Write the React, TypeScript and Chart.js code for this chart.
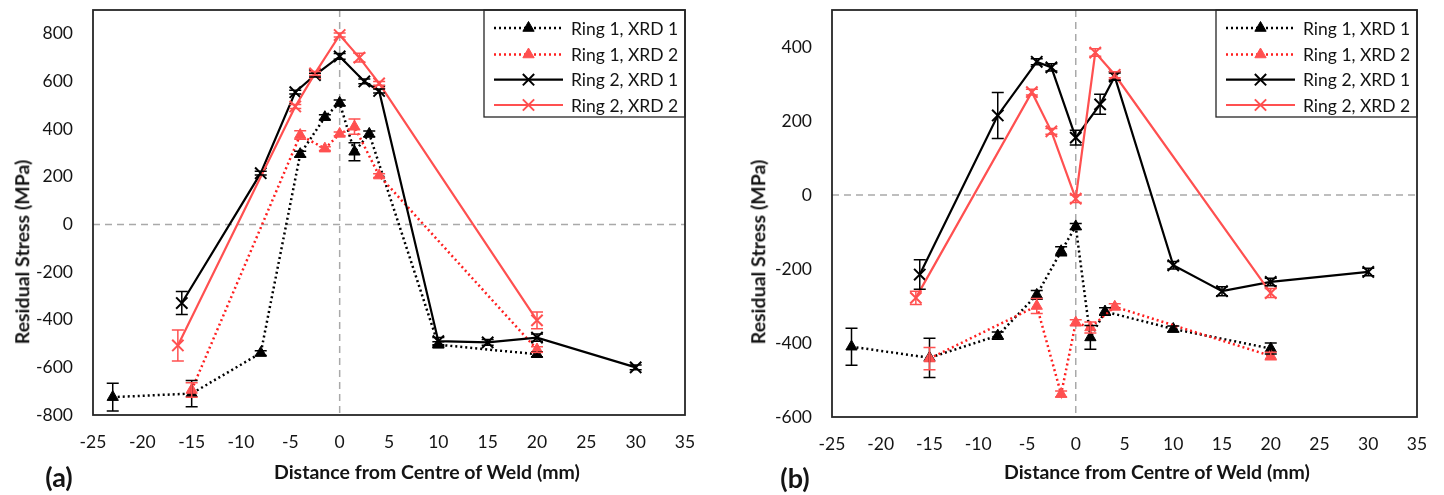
import React, { useEffect, useRef } from 'react';
import { Chart, registerables } from 'chart.js';

Chart.register(...registerables);

// ---------------- shared axis / legend text ----------------
const seriesLabels = ['Ring 1, XRD 1', 'Ring 1, XRD 2', 'Ring 2, XRD 1', 'Ring 2, XRD 2'];
const xTickValues = [-25, -20, -15, -10, -5, 0, 5, 10, 15, 20, 25, 30, 35];
const xTitle = 'Distance from Centre of Weld (mm)';
const yTitle = 'Residual Stress (MPa)';

// ---------------- panel (a) ----------------
const aYTickValues = [-800, -600, -400, -200, 0, 200, 400, 600, 800];

const aR1X1X = [-23, -15, -8, -4, -1.5, 0, 1.5, 3, 10, 20];
const aR1X1Y = [-725, -710, -540, 295, 450, 510, 305, 380, -505, -545];
const aR1X1E = [58, 55, 10, 12, 10, 12, 38, 12, 12, 10];

const aR1X2X = [-15, -4, -1.5, 0, 1.5, 4, 20];
const aR1X2Y = [-695, 375, 318, 380, 410, 205, -525];
const aR1X2E = [30, 18, 8, 8, 32, 8, 12];

const aR2X1X = [-16, -8, -4.5, -2.5, 0, 2.5, 4, 10, 15, 20, 30];
const aR2X1Y = [-330, 215, 555, 627, 705, 600, 560, -490, -495, -475, -600];
const aR2X1E = [48, 8, 8, 8, 12, 10, 8, 15, 12, 15, 10];

const aR2X2X = [-16.4, -4.5, -2.5, 0, 2, 4, 20];
const aR2X2Y = [-508, 495, 634, 795, 700, 592, -403];
const aR2X2E = [65, 8, 8, 8, 18, 8, 35];

// ---------------- panel (b) ----------------
const bYTickValues = [-600, -400, -200, 0, 200, 400];

const bR1X1X = [-23, -15, -8, -4, -1.5, 0, 1.5, 3, 10, 20];
const bR1X1Y = [-410, -440, -380, -270, -152, -85, -385, -315, -362, -415];
const bR1X1E = [50, 53, 10, 12, 12, 8, 32, 10, 8, 15];

const bR1X2X = [-15, -4, -1.5, 0, 1.5, 4, 20];
const bR1X2Y = [-442, -300, -538, -345, -358, -302, -435];
const bR1X2E = [30, 20, 8, 8, 15, 8, 10];

const bR2X1X = [-16, -8, -4, -2.5, 0, 2.5, 4, 10, 15, 20, 30];
const bR2X1Y = [-215, 215, 360, 345, 155, 245, 320, -190, -260, -235, -208];
const bR2X1E = [40, 62, 8, 10, 20, 27, 10, 10, 12, 10, 10];

const bR2X2X = [-16.4, -4.5, -2.5, 0, 2, 4, 20];
const bR2X2Y = [-278, 278, 172, -10, 385, 325, -265];
const bR2X2E = [18, 8, 8, 10, 10, 8, 12];

// ---------------- styling ----------------
const FONT = 'Lato, "Noto Sans", "DejaVu Sans", sans-serif';
const TEXT = '#141414';

type Kind = 'triangle' | 'crossRot';
interface Style { line: string; marker: string; dash: number[]; width: number; point: Kind; radius: number; pbw: number; }
const STYLES: Style[] = [
  { line: '#000000', marker: '#000000', dash: [2, 3], width: 2.5, point: 'triangle', radius: 6.5, pbw: 1 },
  { line: '#ff1f1f', marker: '#ff5050', dash: [2, 3], width: 2.5, point: 'triangle', radius: 6.5, pbw: 1 },
  { line: '#000000', marker: '#000000', dash: [], width: 2.2, point: 'crossRot', radius: 8, pbw: 2 },
  { line: '#ff5050', marker: '#ff5050', dash: [], width: 2.2, point: 'crossRot', radius: 8, pbw: 2 },
];

interface PanelDef {
  left: number; width: number; padRight: number; padTop: number; yAxisW: number; xAxisH: number;
  yMin: number; yMax: number; yTicks: number[];
  xs: number[][]; ys: number[][]; es: number[][];
}

const panelA: PanelDef = {
  left: 0, width: 720, padRight: 35, padTop: 7, yAxisW: 93, xAxisH: 80,
  yMin: -800, yMax: 900, yTicks: aYTickValues,
  xs: [aR1X1X, aR1X2X, aR2X1X, aR2X2X],
  ys: [aR1X1Y, aR1X2Y, aR2X1Y, aR2X2Y],
  es: [aR1X1E, aR1X2E, aR2X1E, aR2X2E],
};
const panelB: PanelDef = {
  left: 722, width: 722, padRight: 27, padTop: 8, yAxisW: 110, xAxisH: 78,
  yMin: -600, yMax: 500, yTicks: bYTickValues,
  xs: [bR1X1X, bR1X2X, bR2X1X, bR2X2X],
  ys: [bR1X1Y, bR1X2Y, bR2X1Y, bR2X2Y],
  es: [bR1X1E, bR1X2E, bR2X1E, bR2X2E],
};

function drawMarker(ctx: CanvasRenderingContext2D, st: Style, x: number, y: number) {
  ctx.save();
  ctx.setLineDash([]);
  const r = st.radius;
  if (st.point === 'triangle') {
    ctx.fillStyle = st.marker;
    ctx.strokeStyle = st.marker;
    ctx.lineWidth = st.pbw;
    ctx.beginPath();
    ctx.moveTo(x, y - r);
    ctx.lineTo(x + r * 0.866, y + r * 0.5);
    ctx.lineTo(x - r * 0.866, y + r * 0.5);
    ctx.closePath();
    ctx.fill();
    ctx.stroke();
  } else {
    const d = r * 0.7071;
    ctx.strokeStyle = st.marker;
    ctx.lineWidth = st.pbw;
    ctx.beginPath();
    ctx.moveTo(x - d, y - d); ctx.lineTo(x + d, y + d);
    ctx.moveTo(x + d, y - d); ctx.lineTo(x - d, y + d);
    ctx.stroke();
  }
  ctx.restore();
}

const decorPlugin = {
  id: 'decor',
  beforeDatasetsDraw(chart: any) {
    const { ctx, chartArea: a, scales } = chart;
    const x0 = scales.x.getPixelForValue(0);
    const y0 = scales.y.getPixelForValue(0);
    ctx.save();
    ctx.strokeStyle = '#a9a9a9';
    ctx.lineWidth = 1.5;
    ctx.setLineDash([7, 5]);
    ctx.beginPath();
    ctx.moveTo(a.left, y0); ctx.lineTo(a.right, y0);
    ctx.moveTo(x0, a.top); ctx.lineTo(x0, a.bottom);
    ctx.stroke();
    ctx.restore();
  },
  afterDatasetsDraw(chart: any) {
    const { ctx, scales } = chart;
    chart.data.datasets.forEach((ds: any, i: number) => {
      const meta = chart.getDatasetMeta(i);
      const st = STYLES[i];
      ctx.save();
      ctx.setLineDash([]);
      ctx.strokeStyle = st.marker;
      ctx.lineWidth = 1.5;
      ds.data.forEach((p: any, j: number) => {
        const e = ds.errors[j];
        if (!e) return;
        const px = meta.data[j].x;
        const yt = scales.y.getPixelForValue(p.y + e);
        const yb = scales.y.getPixelForValue(p.y - e);
        ctx.beginPath();
        ctx.moveTo(px, yt); ctx.lineTo(px, yb);
        ctx.moveTo(px - 6, yt); ctx.lineTo(px + 6, yt);
        ctx.moveTo(px - 6, yb); ctx.lineTo(px + 6, yb);
        ctx.stroke();
      });
      ctx.restore();
    });
  },
  afterDraw(chart: any) {
    const { ctx, chartArea: a } = chart;
    // legend box, top-right inside the plot
    const bw = 201, bh = 107;
    const bx = a.right - bw, by = a.top;
    ctx.save();
    ctx.fillStyle = '#ffffff';
    ctx.fillRect(bx, by, bw, bh);
    ctx.strokeStyle = '#262626';
    ctx.lineWidth = 1.3;
    ctx.strokeRect(bx, by, bw, bh);
    const rows = [18, 44.5, 69.7, 95];
    chart.data.datasets.forEach((ds: any, i: number) => {
      const st = STYLES[i];
      const ly = by + rows[i];
      ctx.save();
      ctx.strokeStyle = st.line;
      ctx.lineWidth = st.width;
      ctx.setLineDash(st.dash);
      ctx.beginPath();
      ctx.moveTo(bx + 10, ly); ctx.lineTo(bx + 79, ly);
      ctx.stroke();
      ctx.restore();
      drawMarker(ctx, st, bx + 44.5, ly);
      ctx.fillStyle = TEXT;
      ctx.font = `17.5px ${FONT}`;
      ctx.textBaseline = 'middle';
      ctx.textAlign = 'left';
      ctx.fillText(ds.label, bx + 87, ly + 1);
    });
    // plot frame
    ctx.strokeStyle = '#262626';
    ctx.lineWidth = 1.8;
    ctx.setLineDash([]);
    ctx.strokeRect(a.left, a.top, a.right - a.left, a.bottom - a.top);
    ctx.restore();
  },
};

function buildConfig(p: PanelDef): any {
  const datasets = seriesLabels.map((label, i) => {
    const st = STYLES[i];
    return {
      label,
      data: p.xs[i].map((x, j) => ({ x, y: p.ys[i][j] })),
      errors: p.es[i],
      borderColor: st.line,
      borderWidth: st.width,
      borderDash: st.dash,
      borderCapStyle: 'butt',
      backgroundColor: st.marker,
      pointStyle: st.point,
      pointRadius: st.radius,
      pointHoverRadius: st.radius,
      pointBackgroundColor: st.marker,
      pointBorderColor: st.marker,
      pointBorderWidth: st.pbw,
      tension: 0,
      fill: false,
      clip: false,
      order: 3 - i,
    };
  });
  const tickFont = { family: FONT, size: 17.5 };
  return {
    type: 'line',
    data: { datasets },
    plugins: [decorPlugin],
    options: {
      animation: false,
      responsive: false,
      events: [],
      layout: { padding: { left: 0, right: p.padRight, top: p.padTop, bottom: 0 } },
      scales: {
        x: {
          type: 'linear',
          min: xTickValues[0],
          max: xTickValues[xTickValues.length - 1],
          afterBuildTicks: (sc: any) => { sc.ticks = xTickValues.map((v) => ({ value: v })); },
          ticks: { font: tickFont, color: TEXT, padding: 17, maxRotation: 0, autoSkip: false, callback: (v: any) => String(v) },
          grid: { display: false, drawTicks: false },
          border: { display: false },
          afterFit: (sc: any) => { sc.height = p.xAxisH; sc.paddingLeft = 0; sc.paddingRight = 0; },
        },
        y: {
          type: 'linear',
          min: p.yMin,
          max: p.yMax,
          afterBuildTicks: (sc: any) => { sc.ticks = p.yTicks.map((v) => ({ value: v })); },
          ticks: { font: tickFont, color: TEXT, padding: 20, autoSkip: false, callback: (v: any) => String(v) },
          grid: { display: false, drawTicks: false },
          border: { display: false },
          afterFit: (sc: any) => { sc.width = p.yAxisW; sc.paddingTop = 0; sc.paddingBottom = 0; },
        },
      },
      plugins: { legend: { display: false }, tooltip: { enabled: false } },
    },
  };
}

function Panel({ p }: { p: PanelDef }) {
  const ref = useRef<HTMLCanvasElement>(null);
  useEffect(() => {
    const chart = new Chart(ref.current as HTMLCanvasElement, buildConfig(p));
    return () => chart.destroy();
  }, []);
  return (
    <canvas
      ref={ref}
      width={p.width}
      height={495}
      style={{ position: 'absolute', left: p.left, top: 0, width: p.width, height: 495 }}
    />
  );
}

const titleStyle: React.CSSProperties = {
  position: 'absolute',
  whiteSpace: 'nowrap',
  fontFamily: FONT,
  fontWeight: 700,
  fontSize: 19.5,
  color: TEXT,
  lineHeight: 1,
};

export default function App() {
  useEffect(() => {
    document.body.style.margin = '0';
    document.body.style.overflow = 'hidden';
  }, []);
  return (
    <div style={{ position: 'absolute', left: 0, top: 0, width: 1444, height: 495, background: '#ffffff', overflow: 'hidden' }}>
      <Panel p={panelA} />
      <Panel p={panelB} />
      <div style={{ ...titleStyle, left: 22, top: 252, transform: 'translate(-50%, -50%) rotate(-90deg)' }}>{yTitle}</div>
      <div style={{ ...titleStyle, left: 758, top: 252, transform: 'translate(-50%, -50%) rotate(-90deg)' }}>{yTitle}</div>
      <div style={{ ...titleStyle, left: 274, top: 472, transform: 'translate(0, -50%)' }}>{xTitle}</div>
      <div style={{ ...titleStyle, left: 1004, top: 472, transform: 'translate(0, -50%)' }}>{xTitle}</div>
      <div style={{ ...titleStyle, fontSize: 27, left: 59, top: 476, transform: 'translate(-50%, -50%)' }}>(a)</div>
      <div style={{ ...titleStyle, fontSize: 27, left: 795, top: 477, transform: 'translate(-50%, -50%)' }}>(b)</div>
    </div>
  );
}
